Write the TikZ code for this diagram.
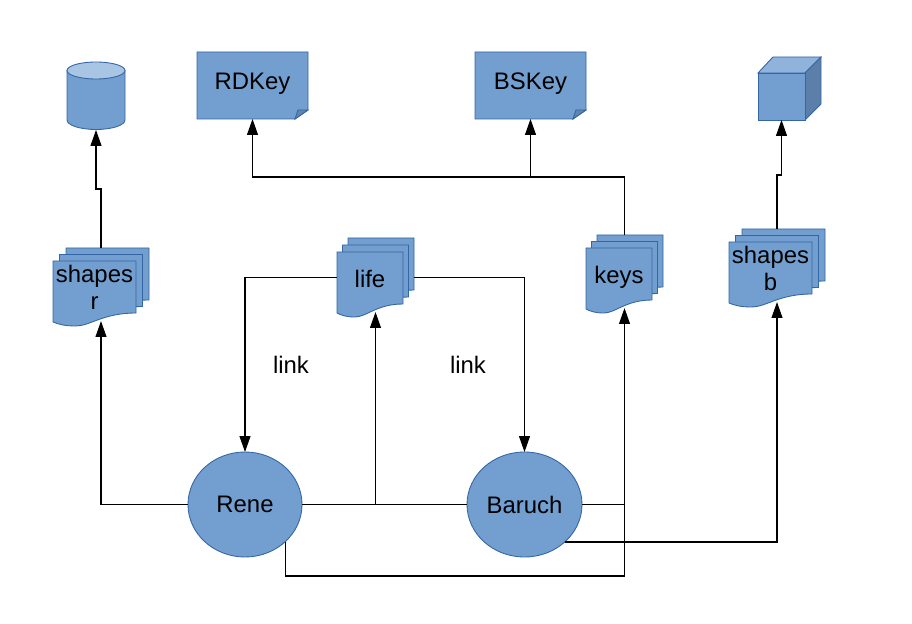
\documentclass[tikz,border=0pt]{standalone}
\usepackage{fontspec}
\setmainfont{Liberation Sans}
\usetikzlibrary{arrows.meta,shapes.geometric}
\definecolor{shapefill}{HTML}{729FCF}
\definecolor{shapeedge}{HTML}{3465A4}
\definecolor{shapelight}{HTML}{8FB3DB}
\definecolor{shapetop}{HTML}{A9C5E4}
\definecolor{shapedark}{HTML}{5B7FA8}
\def\px{0.02cm}
\tikzset{
    blue shape/.style={draw=shapeedge,fill=shapefill,line width=.5pt},
    label text/.style={font=\fontsize{13.6pt}{15.4pt}\selectfont,align=center,inner sep=0pt,text depth=0pt},
    hidden box/.style={inner sep=0pt,outer sep=0pt},
    wire/.style={line width=.6pt,-{Triangle[length=9pt,width=6.2pt]}},
    plain wire/.style={line width=.6pt},
    to stack/.style={wire,shorten >=-2.8pt}
}
\newcommand{\stackdoc}[7]{
    \foreach \k in {2,1,0} {
        \begin{scope}[shift={({#2+\k*#5},{#3-\k*#6})}]
            \draw[blue shape] (0,0) -- (#4,0) -- (#4,52)
                .. controls ({.6*#4},52) and ({.45*#4},65) .. ({.27*#4},65)
                .. controls ({.15*#4},65) and ({.07*#4},63.5) .. (0,61) -- cycle;
        \end{scope}
    }
    \node[label text] (#1text) at ({#2+.5*#4},{#3+26.5}) {#7};
    \node[hidden box,minimum width={(#4+2*#5)*\px},minimum height={(65+2*#6)*\px}]
        (#1) at ({#2+.5*#4+#5},{#3-#6+32.5}) {};
}
\newcommand{\foldnote}[3]{
    \draw[blue shape] ({#2-55.5},52) -- ({#2+55.5},52) -- ({#2+55.5},110) -- ({#2+42.5},119) -- ({#2-55.5},119) -- cycle;
    \draw[blue shape,fill=shapedark!80!shapefill] ({#2+42.5},119) -- ({#2+45.5},110) -- ({#2+55.5},110) -- cycle;
    \node[hidden box,minimum width=111*\px,minimum height=67*\px] (#1) at (#2,85.5) {};
    \node[label text] (#1text) at (#2,81.5) {#3};
}
\begin{document}
\begin{tikzpicture}[x=\px,y=-\px]
    \useasboundingbox (0,0) rectangle (912,624);
    \draw[blue shape] (67,70.5) -- (67,120) arc[start angle=180,end angle=360,x radius=29,y radius=-9.5] -- (125,70.5) -- cycle;
    \draw[blue shape,fill=shapetop] (96,70.5) ellipse[x radius=29,y radius=8.5];
    \node[hidden box,minimum width=58*\px,minimum height=68*\px] (database) at (96,96) {};
    \foldnote{rdkey}{252.5}{RDKey}
    \foldnote{bskey}{530.5}{BSKey}
    \draw[blue shape,fill=shapelight] (758,73) -- (773,57) -- (821,57) -- (805,73) -- cycle;
    \draw[blue shape,fill=shapedark] (805,73) -- (821,57) -- (821,104) -- (805,120) -- cycle;
    \node[blue shape,hidden box,minimum width=47*\px,minimum height=47*\px] (cube) at (781.5,96.5) {};
    \stackdoc{shapesr}{53}{261}{83}{6.5}{6.5}{shapes\\r}
    \stackdoc{life}{337}{252}{66}{5.5}{7}{life}
    \stackdoc{keys}{586}{248}{66}{5.5}{6.5}{keys}
    \stackdoc{shapesb}{729}{242}{83}{6.5}{6.5}{shapes\\b}
    \node[blue shape,ellipse,hidden box,minimum width=114*\px,minimum height=105*\px] (rene) at (245,504.5) {};
    \node[label text] (renetext) at (245,504.5) {Rene};
    \node[blue shape,ellipse,hidden box,minimum width=115*\px,minimum height=105*\px] (baruch) at (524.5,504.5) {};
    \node[label text] (baruchtext) at (524.5,504.5) {Baruch};
    \node[label text] (linkleft) at (291,365) {link};
    \node[label text] (linkright) at (468,365) {link};
    \coordinate (lifejoin) at (life.south |- rene.east);
    \coordinate (keysjoin) at (keys.south |- baruch.east);
    \coordinate (keysloop) at (keys.south |- 0,576);
    \coordinate (keysbend) at (keys.north |- 0,177);
    \coordinate (bsjoin) at (bskey.south |- 0,177);
    \coordinate (dbbend) at (database.south |- 0,189);
    \coordinate (cubebend) at (cube.south |- 0,175);
    \draw[to stack] (rene.west) -| (shapesr.south);
    \draw[wire] (shapesr.north) |- (dbbend) -- (database.south);
    \draw[plain wire] (rene.east) -- (baruch.west);
    \draw[to stack] (lifejoin) -- (life.south);
    \draw[wire] (life.west) -| (rene.north);
    \draw[wire] (life.east) -| (baruch.north);
    \draw[plain wire] (keys.north) -- (keysbend);
    \draw[wire] (keysbend) -| (rdkey.south);
    \draw[wire] (bsjoin) -- (bskey.south);
    \draw[plain wire] (baruch.east) -- (keysjoin);
    \draw[to stack] (keysjoin) -- (keys.south);
    \draw[plain wire] (rene.-43) |- (keysloop) -- (keysjoin);
    \draw[to stack] (baruch.-43) -| (shapesb.south);
    \draw[wire] (shapesb.north) |- (cubebend) -- (cube.south);
\end{tikzpicture}
\end{document}
